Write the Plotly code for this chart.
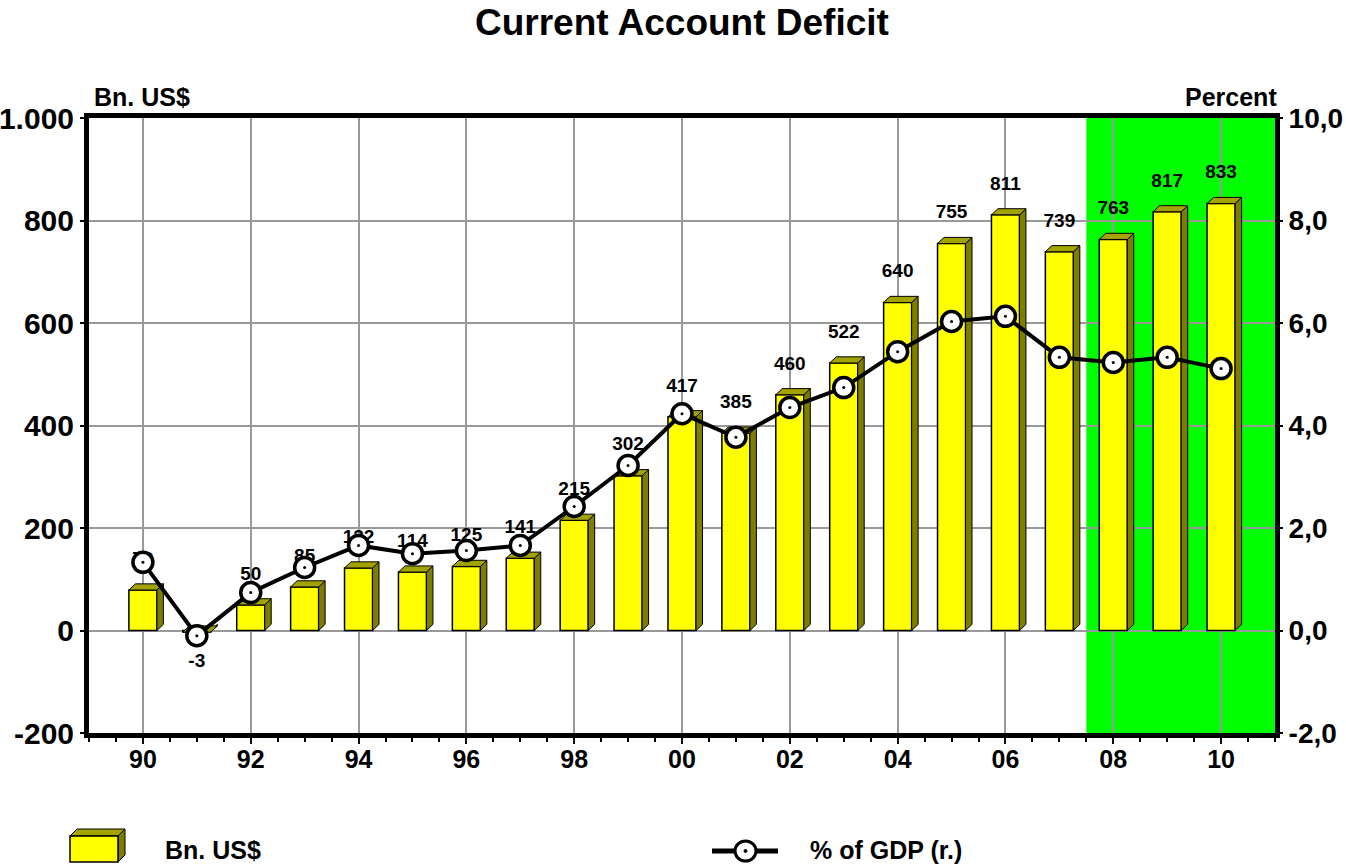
import plotly.graph_objects as go

# ---------------- data ----------------
year_labels = ["90", "91", "92", "93", "94", "95", "96", "97", "98", "99",
               "00", "01", "02", "03", "04", "05", "06", "07", "08", "09", "10"]
bn_usd = [79, -3, 50, 85, 122, 114, 125, 141, 215, 302, 417, 385, 460,
          522, 640, 755, 811, 739, 763, 817, 833]
gdp_pct = [1.33, -0.10, 0.74, 1.23, 1.66, 1.50, 1.56, 1.66, 2.42, 3.22, 4.23,
           3.77, 4.35, 4.74, 5.44, 6.03, 6.13, 5.33, 5.23, 5.33, 5.11]
left_ticks = [-200, 0, 200, 400, 600, 800, 1000]
left_ticktext = ["-200", "0", "200", "400", "600", "800", "1.000"]
right_ticks = [-2, 0, 2, 4, 6, 8, 10]
right_ticktext = ["-2,0", "0,0", "2,0", "4,0", "6,0", "8,0", "10,0"]
forecast_start = 17.5  # shaded forecast region (08-10)

# ---------------- layout constants ----------------
W, H = 1346, 866
L, R, T, B = 89, 71, 118, 133
PW, PH = W - L - R, H - T - B
FONT = "Liberation Sans, Arial, sans-serif"

x = list(range(len(year_labels)))
bar_w = 0.52
dx = 0.12   # depth in x data units
dy = 12     # depth in y data units

# side and top faces of 3D bars
side_x, side_y, top_x, top_y = [], [], [], []
for xi, v in zip(x, bn_usd):
    xr = xi + bar_w / 2
    xl = xi - bar_w / 2
    side_x += [xr, xr + dx, xr + dx, xr, xr, None]
    side_y += [0, dy, v + dy, v, 0, None]
    top_x += [xl, xl + dx, xr + dx, xr, xl, None]
    top_y += [v, v + dy, v + dy, v, v, None]

fig = go.Figure()

fig.add_trace(go.Scatter(x=side_x, y=side_y, mode="lines", fill="toself",
                         fillcolor="#7d7d00", line=dict(color="black", width=1),
                         hoverinfo="skip", showlegend=False))
fig.add_trace(go.Scatter(x=top_x, y=top_y, mode="lines", fill="toself",
                         fillcolor="#a3a300", line=dict(color="black", width=1),
                         hoverinfo="skip", showlegend=False))
fig.add_trace(go.Bar(x=x, y=bn_usd, width=bar_w, name="Bn. US$",
                     marker=dict(color="#ffff00", line=dict(color="black", width=1.5)),
                     showlegend=False))

# data labels
lab_y = [v + 40 if v >= 0 else v - 40 for v in bn_usd]
lab_pos = ["top center" if v >= 0 else "bottom center" for v in bn_usd]
fig.add_trace(go.Scatter(x=x, y=lab_y, mode="text", text=[str(v) for v in bn_usd],
                         textposition=lab_pos,
                         textfont=dict(family=FONT, size=19, color="black", weight="bold"),
                         hoverinfo="skip", showlegend=False))

# % of GDP line on right axis
fig.add_trace(go.Scatter(x=x, y=gdp_pct, yaxis="y2", mode="lines+markers",
                         name="% of GDP (r.)",
                         line=dict(color="black", width=4),
                         marker=dict(symbol="circle", size=20, color="white",
                                     line=dict(color="black", width=3.5)),
                         showlegend=False))
fig.add_trace(go.Scatter(x=x, y=gdp_pct, yaxis="y2", mode="markers",
                         marker=dict(symbol="circle", size=3, color="black"),
                         hoverinfo="skip", showlegend=False))

# ---------------- helpers for paper coords ----------------
def px(xp):
    return (xp - L) / PW

def py(yp):
    return (H - B - yp) / PH

shapes = [
    dict(type="rect", xref="x", yref="paper", x0=forecast_start, x1=21, y0=0, y1=1,
         fillcolor="#00ff00", line=dict(width=0), layer="below"),
]

# custom legend: 3D box icon
def poly(pts):
    return "M " + " L ".join(f"{px(a)},{py(b)}" for a, b in pts) + " Z"

shapes += [
    dict(type="path", xref="paper", yref="paper",
         path=poly([(70, 836), (77, 829), (125, 829), (118, 836)]),
         fillcolor="#a3a300", line=dict(color="black", width=1)),
    dict(type="path", xref="paper", yref="paper",
         path=poly([(118, 836), (125, 829), (125, 855), (118, 862)]),
         fillcolor="#7d7d00", line=dict(color="black", width=1)),
    dict(type="rect", xref="paper", yref="paper",
         x0=px(70), x1=px(118), y0=py(862), y1=py(836),
         fillcolor="#ffff00", line=dict(color="black", width=1.5)),
    dict(type="line", xref="paper", yref="paper",
         x0=px(712), x1=px(778), y0=py(851), y1=py(851),
         line=dict(color="black", width=5)),
    dict(type="circle", xref="paper", yref="paper",
         x0=px(735), x1=px(756), y0=py(861), y1=py(841),
         fillcolor="white", line=dict(color="black", width=3)),
    dict(type="circle", xref="paper", yref="paper",
         x0=px(744), x1=px(747), y0=py(852.5), y1=py(849.5),
         fillcolor="black", line=dict(color="black", width=1)),
]

annotations = [
    dict(text="<b>Current Account Deficit</b>", xref="paper", yref="paper",
         x=0.5, y=py(22), xanchor="center", yanchor="middle", showarrow=False,
         font=dict(family=FONT, size=37, color="black")),
    dict(text="<b>Bn. US$</b>", xref="paper", yref="paper",
         x=px(92), y=py(97), xanchor="left", yanchor="middle", showarrow=False,
         font=dict(family=FONT, size=25, color="black")),
    dict(text="<b>Percent</b>", xref="paper", yref="paper",
         x=px(1279), y=py(97), xanchor="right", yanchor="middle", showarrow=False,
         font=dict(family=FONT, size=25, color="black")),
    dict(text="<b>Bn. US$</b>", xref="paper", yref="paper",
         x=px(163), y=py(850), xanchor="left", yanchor="middle", showarrow=False,
         font=dict(family=FONT, size=25, color="black")),
    dict(text="<b>% of GDP (r.)</b>", xref="paper", yref="paper",
         x=px(808), y=py(850), xanchor="left", yanchor="middle", showarrow=False,
         font=dict(family=FONT, size=25, color="black")),
]

tickfont_y = dict(family=FONT, size=30, color="black", weight="bold")
tickfont_y2 = dict(family=FONT, size=28, color="black", weight="bold")
fig.update_layout(
    width=W, height=H,
    margin=dict(l=L, r=R, t=T, b=B, autoexpand=False),
    paper_bgcolor="white", plot_bgcolor="white",
    showlegend=False,
    shapes=shapes, annotations=annotations,
    xaxis=dict(range=[-1, 21], tickvals=x[::2], ticktext=year_labels[::2],
               tickfont=dict(family=FONT, size=25, color="black", weight="bold"),
               showgrid=True, gridcolor="#999999", gridwidth=2,
               showline=True, linecolor="black", linewidth=5, mirror=True,
               ticks="outside", ticklen=6, tickwidth=2, tickcolor="black",
               ticklabelstandoff=-6,
               minor=dict(dtick=0.5, tick0=0, ticks="outside", ticklen=4,
                          tickwidth=2, tickcolor="black", showgrid=False),
               zeroline=False, fixedrange=True),
    yaxis=dict(range=[-200, 1000], tickvals=left_ticks, ticktext=left_ticktext,
               tickfont=tickfont_y, showgrid=True, gridcolor="#999999", gridwidth=2,
               showline=True, linecolor="black", linewidth=5,
               ticks="outside", ticklen=4, tickwidth=2, tickcolor="black",
               zeroline=False, fixedrange=True),
    yaxis2=dict(range=[-2, 10], tickvals=right_ticks, ticktext=right_ticktext,
                overlaying="y", side="right", tickfont=tickfont_y2,
                showgrid=False, showline=True, linecolor="black", linewidth=5,
                ticks="outside", ticklen=3, tickwidth=2, tickcolor="black",
                zeroline=False, fixedrange=True),
)

fig.write_html("out.html", config={"displayModeBar": False})

# remove the default page margin so the figure sits at the window's top-left
with open("out.html", "r", encoding="utf-8") as f:
    html = f.read()
html = html.replace("<body>", '<body style="margin:0;overflow:hidden">', 1)
with open("out.html", "w", encoding="utf-8") as f:
    f.write(html)
